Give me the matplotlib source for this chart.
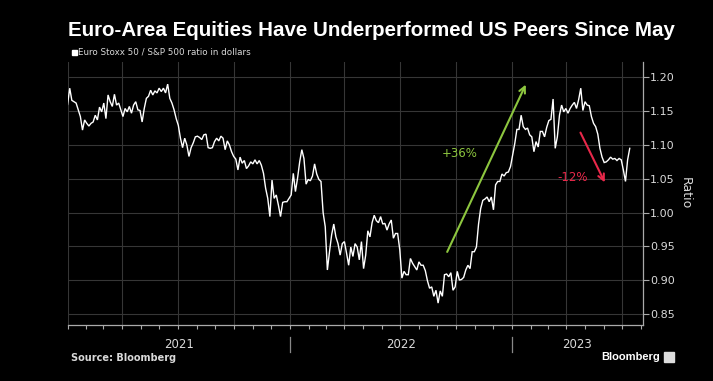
import matplotlib
matplotlib.use("Agg")
import matplotlib.pyplot as plt
import matplotlib.dates as mdates
from matplotlib.patches import Rectangle
import pandas as pd

# Euro Stoxx 50 / S&P 500 ratio in dollars, read twice a week from the chart
ratio = [
    1.160, 1.184, 1.166, 1.164, 1.162, 1.152, 1.142, 1.122, 1.137, 1.132,
    1.128, 1.132, 1.134, 1.144, 1.137, 1.156, 1.149, 1.162, 1.139, 1.174,
    1.164, 1.157, 1.175, 1.159, 1.162, 1.152, 1.142, 1.154, 1.149, 1.157,
    1.147, 1.159, 1.164, 1.152, 1.151, 1.134, 1.154, 1.169, 1.172, 1.181,
    1.174, 1.180, 1.177, 1.184, 1.179, 1.184, 1.177, 1.190, 1.169, 1.162,
    1.152, 1.139, 1.129, 1.110, 1.096, 1.110, 1.100, 1.083, 1.096, 1.103,
    1.112, 1.113, 1.111, 1.108, 1.115, 1.116, 1.096, 1.095, 1.096, 1.105,
    1.110, 1.106, 1.113, 1.110, 1.093, 1.106, 1.100, 1.090, 1.083, 1.079,
    1.063, 1.082, 1.073, 1.077, 1.065, 1.069, 1.075, 1.072, 1.078, 1.072,
    1.077, 1.070, 1.058, 1.036, 1.021, 0.994, 1.048, 1.021, 1.026, 1.011,
    0.994, 1.015, 1.016, 1.016, 1.021, 1.026, 1.058, 1.031, 1.051, 1.075,
    1.093, 1.080, 1.042, 1.049, 1.047, 1.054, 1.072, 1.057, 1.049, 1.046,
    1.000, 0.979, 0.915, 0.942, 0.967, 0.983, 0.964, 0.954, 0.937, 0.954,
    0.957, 0.940, 0.922, 0.949, 0.935, 0.954, 0.949, 0.930, 0.957, 0.917,
    0.937, 0.973, 0.964, 0.985, 0.996, 0.988, 0.985, 0.994, 0.983, 0.984,
    0.974, 0.983, 0.989, 0.962, 0.969, 0.969, 0.945, 0.903, 0.913, 0.908,
    0.908, 0.932, 0.925, 0.920, 0.915, 0.927, 0.922, 0.922, 0.914, 0.899,
    0.888, 0.890, 0.876, 0.885, 0.866, 0.884, 0.876, 0.908, 0.909, 0.905,
    0.911, 0.885, 0.890, 0.913, 0.900, 0.901, 0.904, 0.915, 0.922, 0.917,
    0.942, 0.942, 0.949, 0.983, 1.006, 1.018, 1.020, 1.023, 1.016, 1.023,
    1.004, 1.041, 1.046, 1.046, 1.057, 1.054, 1.059, 1.060, 1.068, 1.085,
    1.102, 1.123, 1.123, 1.144, 1.127, 1.123, 1.125, 1.115, 1.112, 1.090,
    1.105, 1.097, 1.120, 1.120, 1.112, 1.126, 1.136, 1.138, 1.168, 1.095,
    1.112, 1.144, 1.159, 1.149, 1.154, 1.147, 1.154, 1.159, 1.163, 1.154,
    1.167, 1.184, 1.151, 1.164, 1.159, 1.158, 1.142, 1.132, 1.127, 1.116,
    1.095, 1.082, 1.074, 1.075, 1.078, 1.082, 1.079, 1.080, 1.077, 1.080,
    1.078, 1.063, 1.046, 1.078, 1.095,
]
dates = pd.date_range("2021-01-01", periods=len(ratio), freq="84h")

year_labels = ["2021", "2022", "2023"]
y_ticks = [0.85, 0.90, 0.95, 1.00, 1.05, 1.10, 1.15, 1.20]

BG = "#000000"
GRID = "#363636"
TXT = "#d9d9d9"
GREEN = "#8dc63f"
RED = "#e8284a"
TITLE_FONT = ["Liberation Sans Narrow", "Liberation Sans", "DejaVu Sans"]

fig = plt.figure(figsize=(7.13, 3.81), dpi=100, facecolor=BG)
ax = fig.add_axes([0.0948, 0.147, 0.8072, 0.690], facecolor=BG)

ax.plot(dates, ratio, color="white", lw=1.0, solid_joinstyle="miter")

x0 = pd.Timestamp("2021-01-01")
x1 = pd.Timestamp("2023-08-05")
ax.set_xlim(x0, x1)
ax.set_ylim(0.8336, 1.2226)

# y axis on the right
ax.yaxis.tick_right()
ax.yaxis.set_label_position("right")
ax.set_yticks(y_ticks)
ax.set_yticklabels([f"{v:.2f}" for v in y_ticks])
ax.tick_params(axis="y", colors="#aaaaaa", labelcolor=TXT, labelsize=8,
               length=4, width=0.8, pad=1)
ax.set_ylabel("Ratio", color=TXT, fontsize=9, rotation=-90, labelpad=12)

# x axis: quarterly grid, monthly ticks
ax.xaxis.set_major_locator(mdates.MonthLocator(bymonth=[1, 4, 7, 10]))
ax.xaxis.set_minor_locator(mdates.MonthLocator())
ax.xaxis.set_major_formatter(plt.NullFormatter())
ax.tick_params(axis="x", which="both", colors="#aaaaaa", length=3, width=0.8,
               direction="out")
ax.grid(True, which="major", color=GRID, lw=0.8)

for side in ["top", "left"]:
    ax.spines[side].set_visible(False)
for side in ["bottom", "right"]:
    ax.spines[side].set_color("#aaaaaa")
    ax.spines[side].set_linewidth(0.9)

# year labels and separators below the axis
trans = ax.get_xaxis_transform()
year_starts = [pd.Timestamp(f"{y}-01-01") for y in year_labels]
year_ends = year_starts[1:] + [x1]
for s, e, lab in zip(year_starts, year_ends, year_labels):
    mid = s + (e - s) / 2
    ax.text(mid, -0.076, lab, transform=trans, ha="center", va="center",
            color=TXT, fontsize=8.5)
for s in year_starts[1:]:
    ax.plot([s, s], [-0.046, -0.103], transform=trans, color="#888888",
            lw=0.9, clip_on=False)

# annotations
ax.annotate("", xy=(pd.Timestamp("2023-01-26"), 1.193),
            xytext=(pd.Timestamp("2022-09-15"), 0.938),
            arrowprops=dict(arrowstyle="->", color=GREEN, lw=1.5,
                            mutation_scale=11))
ax.text(pd.Timestamp("2022-10-08"), 1.087, "+36%", color=GREEN, fontsize=8.5,
        ha="center", va="center")
ax.annotate("", xy=(pd.Timestamp("2023-06-05"), 1.041),
            xytext=(pd.Timestamp("2023-04-22"), 1.122),
            arrowprops=dict(arrowstyle="->", color=RED, lw=1.5,
                            mutation_scale=11))
ax.text(pd.Timestamp("2023-04-11"), 1.0525, "-12%", color=RED, fontsize=8.5,
        ha="center", va="center")

# title: shrink the font until it spans the same width as the reference
title = fig.text(0.0954, 0.921,
                 "Euro-Area Equities Have Underperformed US Peers Since May",
                 color="white", fontsize=16, fontweight="bold",
                 family=TITLE_FONT, ha="left", va="center")
renderer = fig.canvas.get_renderer()
size = 16.0
while title.get_window_extent(renderer).width > 608 and size > 8:
    size -= 0.25
    title.set_fontsize(size)

# legend and footer
fig.patches.append(Rectangle((0.101, 0.856), 0.0075, 0.014, color="white",
                             transform=fig.transFigure))
fig.text(0.110, 0.863, "Euro Stoxx 50 / S&P 500 ratio in dollars", color=TXT,
         fontsize=6.3, ha="left", va="center")
fig.text(0.0995, 0.060, "Source: Bloomberg", color=TXT, fontsize=7,
         fontweight="bold", ha="left", va="center")
fig.text(0.926, 0.063, "Bloomberg", color="white", fontsize=8,
         fontweight="semibold", family=TITLE_FONT[1:], ha="right",
         va="center")
fig.patches.append(Rectangle((0.931, 0.050), 0.014, 0.027, color="#dddddd",
                             transform=fig.transFigure))

fig.savefig("out.png", dpi=100, facecolor=BG)
